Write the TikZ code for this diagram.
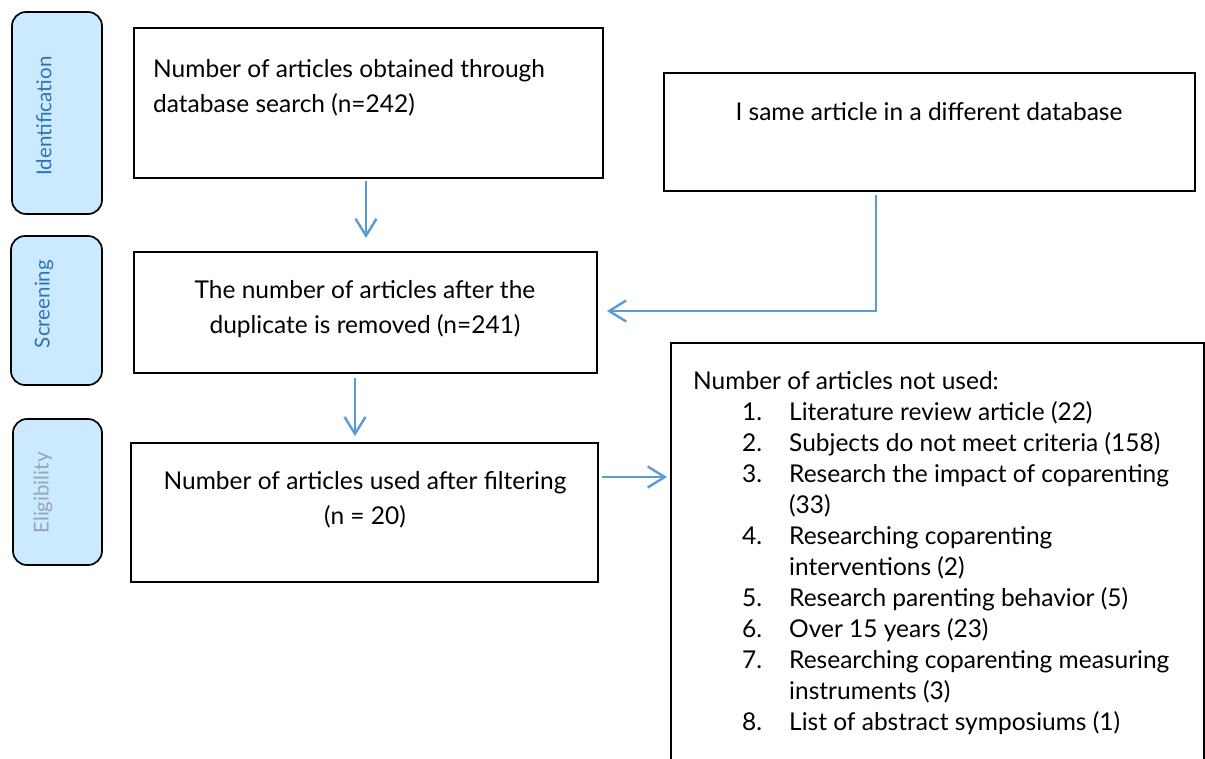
\documentclass[tikz,border=0pt]{standalone}
\usepackage{fontspec}
\setmainfont{Lato}
\usetikzlibrary{arrows.meta}
\definecolor{arrowblue}{HTML}{5B9BD5}
\definecolor{phasefill}{HTML}{CCEAFF}
\definecolor{phasetext}{HTML}{2E74B5}
\definecolor{phasegrey}{HTML}{93A5BA}
\newcommand{\itm}[2]{\makebox[96pt][l]{\hspace{49pt}#1}#2\\}
\newcommand{\cnt}[1]{\makebox[96pt][l]{}#1\\}
\begin{document}
\begin{tikzpicture}[x=1pt,y=-1pt,
  box/.style={draw=black, line width=1.7pt, rectangle, inner sep=0pt},
  phase/.style={draw=black, line width=1.7pt, fill=phasefill, rounded corners=14pt, rectangle, inner sep=0pt},
  phaselabel/.style={rotate=90, font=\fontsize{20.5}{24}\selectfont, inner sep=0pt},
  conn/.style={draw=arrowblue, line width=2.4pt, -{Straight Barb[length=17pt,width=21pt,line width=2.4pt]}},
  txt/.style={font=\fontsize{24.5}{35}\selectfont, inner sep=0pt},
]
\useasboundingbox (0,0) rectangle (1205,758);

% phase boxes
\node[phase, minimum width=90pt, minimum height=202pt] (pid) at (57,113) {};
\node[phase, minimum width=91pt, minimum height=149pt] (pscr) at (56.5,310.5) {};
\node[phase, minimum width=89pt, minimum height=146pt] (pel) at (57.5,492) {};
\node[phaselabel, text=phasetext] (lid) at (44,116) {Identification};
\node[phaselabel, text=phasetext] (lscr) at (44,304) {Screening};
\node[phaselabel, text=phasegrey] (lel) at (43,493) {Eligibility};

% main boxes
\node[box, minimum width=469pt, minimum height=150pt] (b1) at (368.5,103) {};
\node[box, minimum width=531pt, minimum height=118pt] (dup) at (929.5,132) {};
\node[box, minimum width=463pt, minimum height=121pt] (b2) at (365.5,312.5) {};
\node[box, minimum width=467pt, minimum height=139pt] (b3) at (364.5,512.5) {};
\draw[line width=1.7pt] (671,775) -- (671,343) -- (1204,343) -- (1204,775);
\coordinate (bigw) at (667,477);

% texts
\node[txt, anchor=base west, align=left] (t1) at (153,112)
  {Number of articles obtained through\\database search (n=242)};
\node[txt, anchor=base] (tdup) at (929,120) {I same article in a different database};
\node[txt, anchor=base, align=center] (t2) at (365,333)
  {The number of articles after the\\duplicate is removed (n=241)};
\node[txt, anchor=base, align=center] (t3) at (365,524)
  {Number of articles used after filtering\\(n = 20)};
\node[anchor=base west, inner sep=0pt, font=\fontsize{24.5}{31}\selectfont] (list) at (693,389)
  {\begin{tabular}[t]{@{}l@{}}
   Number of articles not used:\\
   \itm{1.}{Literature review article (22)}
   \itm{2.}{Subjects do not meet criteria (158)}
   \itm{3.}{Research the impact of coparenting}
   \cnt{(33)}
   \itm{4.}{Researching coparenting}
   \cnt{interventions (2)}
   \itm{5.}{Research parenting behavior (5)}
   \itm{6.}{Over 15 years (23)}
   \itm{7.}{Researching coparenting measuring}
   \cnt{instruments (3)}
   \itm{8.}{List of abstract symposiums (1)}
  \end{tabular}};

% connectors
\draw[conn] ([yshift=-2pt]b1.south -| 366,0) -- (366,238);
\draw[conn] ([yshift=-3pt]dup.south -| 876,0) |- ([xshift=9pt]b2.east |- 0,311);
\draw[conn] ([yshift=-4pt]b2.south -| 355,0) -- ([yshift=6pt]b3.north -| 355,0);
\draw[conn] ([xshift=3pt]b3.east |- 0,477) -- (bigw);
\end{tikzpicture}
\end{document}
